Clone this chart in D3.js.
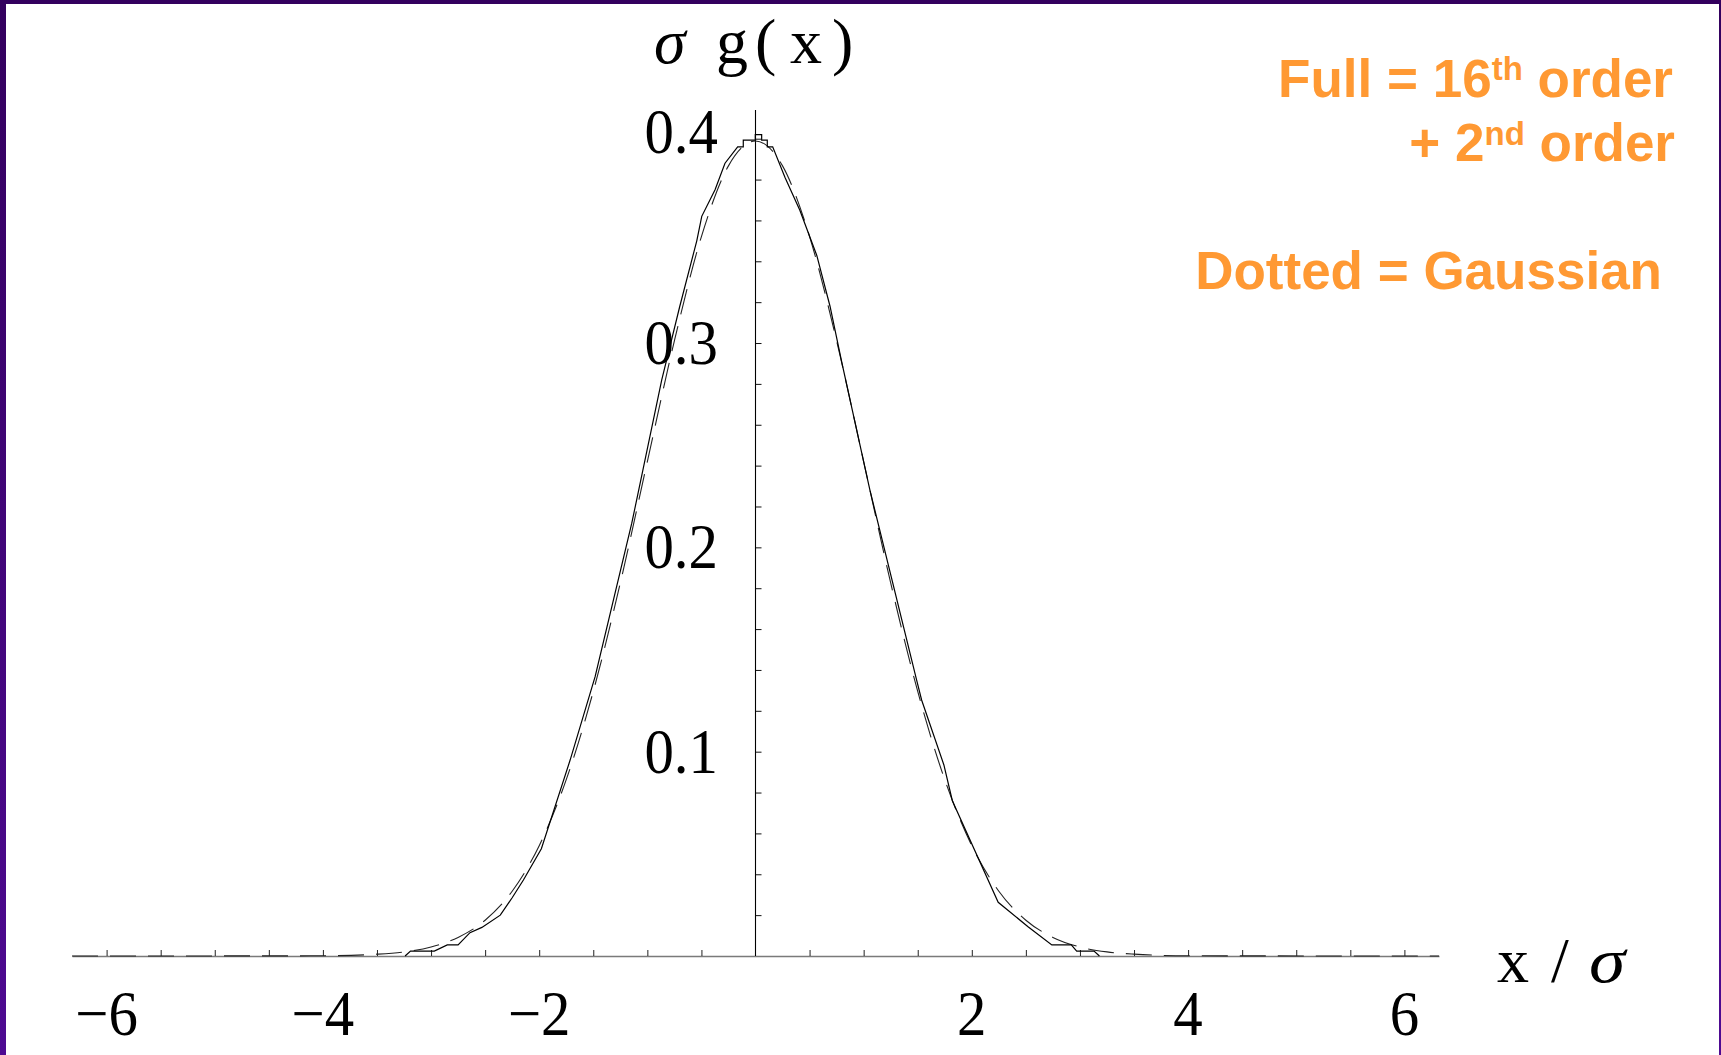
<!DOCTYPE html>
<html>
<head>
<meta charset="utf-8">
<script src="https://cdn.jsdelivr.net/npm/d3@7"></script>
<style>
  html, body { margin: 0; padding: 0; background: #ffffff; }
  svg { display: block; }
</style>
</head>
<body>
<svg id="chart" width="1721" height="1055"></svg>
<script>
// ---------------- data ----------------
// solid curve: "Full = 16th order + 2nd order"
const solidX = [-3.24, -3.19, -2.97, -2.85, -2.75, -2.64, -2.53, -2.36, -2.25, -2.146, -1.98, -1.714, -1.483, -1.144, -0.867, -0.70, -0.543, -0.497, -0.374, -0.282, -0.165, -0.113, -0.113, -0.002, -0.002, 0.057, 0.057, 0.109, 0.109, 0.159, 0.273, 0.41, 0.566, 0.689, 0.80, 1.058, 1.49, 1.536, 1.742, 1.82, 2.244, 2.52, 2.74, 2.92, 2.97, 3.13, 3.18];
const solidY = [0, 0.0024, 0.0024, 0.0054, 0.0054, 0.0114, 0.014, 0.020, 0.0285, 0.0372, 0.0525, 0.0959, 0.1367, 0.2118, 0.282, 0.318, 0.350, 0.362, 0.375, 0.388, 0.396, 0.396, 0.3993, 0.3993, 0.402, 0.402, 0.3993, 0.3993, 0.396, 0.396, 0.381, 0.365, 0.343, 0.318, 0.290, 0.228, 0.135, 0.1253, 0.0935, 0.076, 0.0263, 0.0143, 0.0054, 0.0054, 0.0024, 0.0024, 0];
// dotted curve: Gaussian
const gaussX = [-6.32, -4, -3.5, -3.25, -3, -2.75, -2.5, -2.25, -2, -1.75, -1.5, -1.25, -1, -0.75, -0.5, -0.25, 0, 0.25, 0.5, 0.75, 1, 1.25, 1.5, 1.75, 2, 2.25, 2.5, 2.75, 3, 3.25, 3.5, 4, 6.32];
const gaussY = [0, 0.0001, 0.0009, 0.002, 0.0044, 0.0091, 0.0175, 0.0317, 0.054, 0.0863, 0.1295, 0.1826, 0.242, 0.3011, 0.3521, 0.3867, 0.3989, 0.3867, 0.3521, 0.3011, 0.242, 0.1826, 0.1295, 0.0863, 0.054, 0.0317, 0.0175, 0.0091, 0.0044, 0.002, 0.0009, 0.0001, 0];
// ticks and labels
const xTickLabels = [-6, -4, -2, 2, 4, 6];
const yTickLabels = [0.1, 0.2, 0.3, 0.4];
const xDomain = [-6.32, 6.32];
const yDomain = [0, 0.4];
const yAxisTopValue = 0.414;
const legendLines = ["Full = 16", "th", " order", "+ 2", "nd", " order", "Dotted = Gaussian"];

// ---------------- drawing ----------------
const svg = d3.select("#chart");
const W = 1721, H = 1055;

svg.append("rect").attr("x", 0).attr("y", 0).attr("width", W).attr("height", H).attr("fill", "#ffffff");

// purple slide frame
const defs = svg.append("defs");
const grad = defs.append("linearGradient").attr("id", "frameGrad")
  .attr("x1", 0).attr("y1", 0).attr("x2", 0).attr("y2", 1);
grad.append("stop").attr("offset", "0%").attr("stop-color", "#33005e");
grad.append("stop").attr("offset", "100%").attr("stop-color", "#4e0a92");
svg.append("rect").attr("x", 0).attr("y", 0).attr("width", W).attr("height", 4).attr("fill", "#33005e");
svg.append("rect").attr("x", 0).attr("y", 0).attr("width", 6).attr("height", H).attr("fill", "url(#frameGrad)");
svg.append("rect").attr("x", 1719).attr("y", 0).attr("width", 2).attr("height", H).attr("fill", "url(#frameGrad)");

const x = d3.scaleLinear().domain(xDomain).range([72, 1439]);
const y = d3.scaleLinear().domain(yDomain).range([956, 138.7]);

const serif = "'Liberation Serif', 'Times New Roman', serif";

// x axis (ticks upward)
const xMinor = d3.range(-6, 6.001, 0.5).filter(v => Math.abs(v) > 1e-9);
const gx = svg.append("g").attr("transform", `translate(0,${y(0)})`)
  .call(d3.axisBottom(x).tickValues(xMinor).tickSize(-6).tickSizeOuter(0).tickFormat(""));
gx.select(".domain").attr("stroke", "#7a7a7a").attr("stroke-width", 1.6);
gx.selectAll(".tick line").attr("stroke", "#222").attr("stroke-width", 1);

// y axis (ticks to the right)
const yMinor = d3.range(0.02, 0.4001, 0.02);
const gy = svg.append("g").attr("transform", `translate(${x(0)},0)`)
  .call(d3.axisRight(y).tickValues(yMinor).tickSize(6).tickSizeOuter(0).tickFormat(""));
gy.select(".domain").remove();
gy.selectAll(".tick line").attr("stroke", "#111").attr("stroke-width", 1);
svg.append("line")
  .attr("x1", x(0)).attr("x2", x(0))
  .attr("y1", y(0)).attr("y2", y(yAxisTopValue))
  .attr("stroke", "#000").attr("stroke-width", 1.1);

// tick labels (Times-like, slightly condensed as in the original)
svg.append("g").selectAll("text").data(xTickLabels).join("text")
  .attr("transform", d => `translate(${x(d)},1035) scale(0.92,1)`)
  .attr("text-anchor", "middle")
  .attr("font-family", serif).attr("font-size", 64).attr("fill", "#000")
  .text(d => (d < 0 ? "\u2212" + Math.abs(d) : String(d)));

svg.append("g").selectAll("text").data(yTickLabels).join("text")
  .attr("transform", d => `translate(718,${y(d) + (d >= 0.4 ? 14 : 21)}) scale(0.92,1)`)
  .attr("text-anchor", "end")
  .attr("font-family", serif).attr("font-size", 64).attr("fill", "#000")
  .text(d => d3.format(".1f")(d));

// axis titles
const yTitle = svg.append("text").attr("y", 63)
  .attr("font-family", serif).attr("font-size", 64).attr("fill", "#000");
yTitle.append("tspan").attr("x", 654).attr("font-style", "italic").text("\u03c3");
yTitle.append("tspan").attr("x", 716).text("g");
yTitle.append("tspan").attr("x", 755).text("(");
yTitle.append("tspan").attr("x", 790).text("x");
yTitle.append("tspan").attr("x", 832).text(")");

const xTitle = svg.append("text").attr("y", 982)
  .attr("font-family", serif).attr("font-size", 64).attr("fill", "#000");
xTitle.append("tspan").attr("x", 1497).text("x");
xTitle.append("tspan").attr("x", 1551).text("/");
svg.append("text")
  .attr("transform", "translate(1589,982) scale(1.15,1)")
  .attr("font-family", serif).attr("font-size", 64).attr("font-style", "italic").attr("fill", "#000")
  .text("\u03c3");

// curves
const solidData = solidX.map((v, i) => [v, solidY[i]]);
const gaussData = gaussX.map((v, i) => [v, gaussY[i]]);

svg.append("path")
  .datum(gaussData)
  .attr("fill", "none").attr("stroke", "#222").attr("stroke-width", 1.1)
  .attr("stroke-dasharray", "26,12")
  .attr("d", d3.line().x(d => x(d[0])).y(d => y(d[1])).curve(d3.curveMonotoneX));

svg.append("path")
  .datum(solidData)
  .attr("fill", "none").attr("stroke", "#000").attr("stroke-width", 1.2)
  .attr("stroke-linejoin", "miter")
  .attr("d", d3.line().x(d => x(d[0])).y(d => y(d[1])));

// legend text
const sans = "'Liberation Sans', Arial, Helvetica, sans-serif";
const orange = "#ff9933";
const fs = 53;
const l1 = svg.append("text").attr("x", 1673).attr("y", 96.5).attr("text-anchor", "end")
  .attr("font-family", sans).attr("font-weight", "bold").attr("font-size", fs).attr("fill", orange);
l1.append("tspan").text(legendLines[0]);
l1.append("tspan").attr("font-size", 33).attr("dy", -17).text(legendLines[1]);
l1.append("tspan").attr("dy", 17).text(legendLines[2]);

const l2 = svg.append("text").attr("x", 1675).attr("y", 160.5).attr("text-anchor", "end")
  .attr("font-family", sans).attr("font-weight", "bold").attr("font-size", fs).attr("fill", orange);
l2.append("tspan").text(legendLines[3]);
l2.append("tspan").attr("font-size", 33).attr("dy", -16).text(legendLines[4]);
l2.append("tspan").attr("dy", 16).text(legendLines[5]);

svg.append("text").attr("x", 1662).attr("y", 289).attr("text-anchor", "end")
  .attr("font-family", sans).attr("font-weight", "bold").attr("font-size", fs).attr("fill", orange)
  .text(legendLines[6]);
</script>
</body>
</html>
